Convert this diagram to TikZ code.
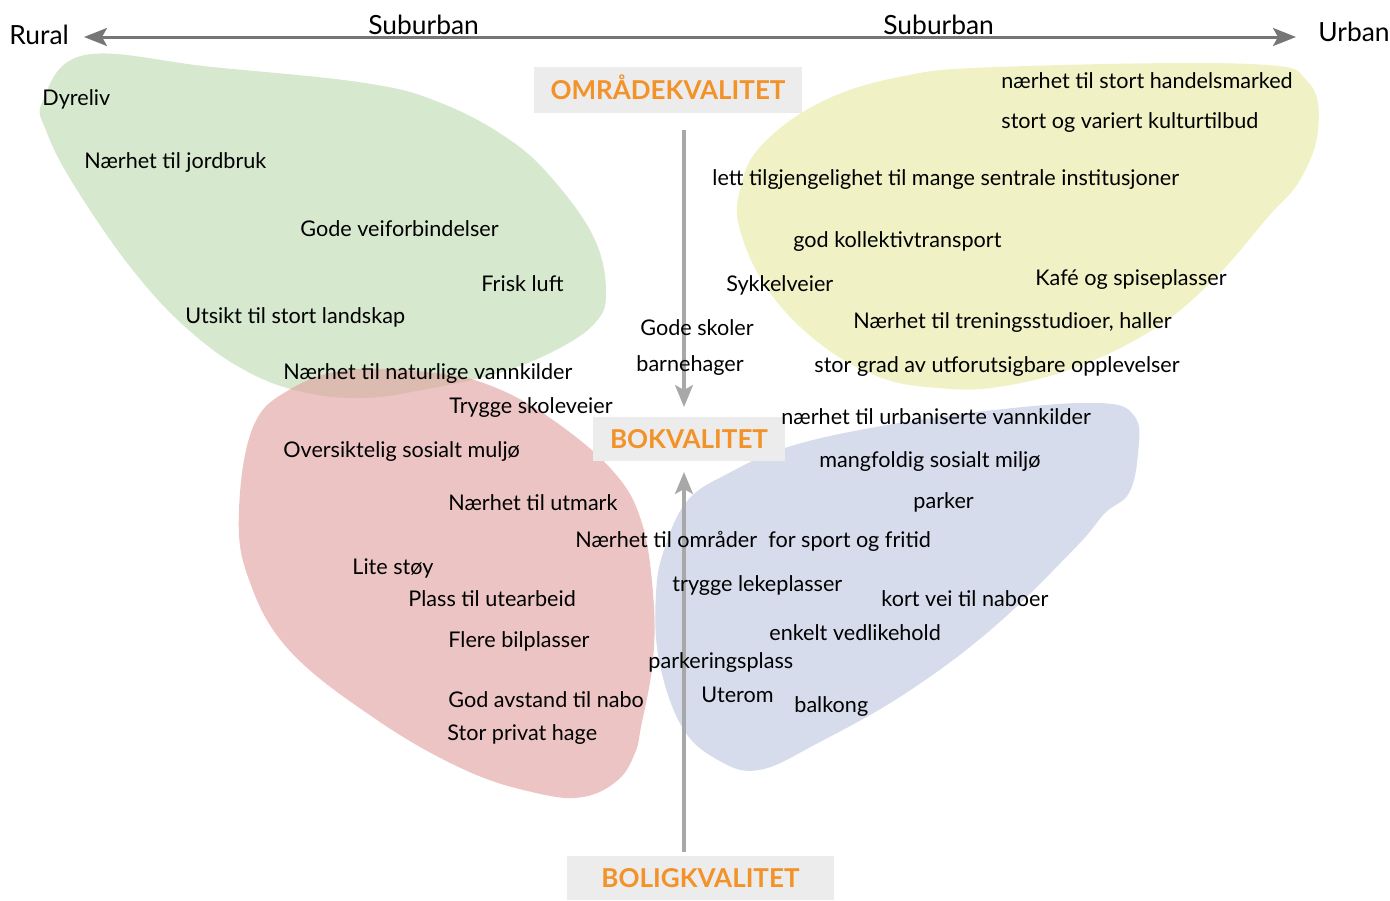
\documentclass[tikz,border=0pt]{standalone}
\usepackage{fontspec}
\setmainfont{Lato}
\usepackage{tikz}
\usetikzlibrary{arrows.meta}
\definecolor{omrOrange}{RGB}{242,146,40}
\definecolor{boksGraa}{RGB}{236,236,236}
\definecolor{akseGraa}{RGB}{118,118,118}
\definecolor{pilGraa}{RGB}{168,168,168}

\begin{document}
\begin{tikzpicture}[x=0.5pt, y=-0.5pt, font=\fontsize{10.8}{12}\selectfont,
    tekst/.style={anchor=base west, inner sep=0pt},
    akse/.style={anchor=base west, inner sep=0pt, font=\fontsize{13.2}{15}\selectfont},
    kvalitet/.style={fill=boksGraa, text=omrOrange, inner sep=0pt,
      font=\fontsize{13}{15}\selectfont\bfseries, text height=9.4pt, text depth=0pt},
    aksepil/.style={draw=akseGraa, line width=1.5pt,
      {Stealth[length=11.5pt, width=9pt, inset=2.5pt]}-{Stealth[length=11.5pt, width=9pt, inset=2.5pt]}},
    vpil/.style={draw=pilGraa, line width=1.6pt,
      -{Stealth[length=11pt, width=9pt, inset=2.5pt]}}]
  % ── Palette ──
  \definecolor{colGruen}{RGB}{214,232,206}
  \definecolor{colGul}{RGB}{240,242,198}
  \definecolor{colRod}{RGB}{225,157,157}
  \definecolor{colBla}{RGB}{214,220,236}

  \useasboundingbox (0,0) rectangle (1390,900);

  % ── Flater (px, y nedover) ──
  \fill[colGruen] plot[smooth cycle, tension=0.65] coordinates {
    (85,55) (212,67) (365,83) (441,103) (510,140) (556,183) (595,240)
    (606,293) (595,323) (556,350) (499,373) (422,390) (365,398) (307,393)
    (250,373) (192,333) (135,273) (77,190) (47,133) (43,100)};
  \fill[colGul] plot[smooth cycle, tension=0.65] coordinates {
    (998,67) (1250,64) (1308,82) (1318,130) (1300,180) (1268,217) (1216,277)
    (1157,327) (1077,367) (998,387) (938,388) (879,377) (819,343)
    (768,290) (740,230) (740,190) (760,147) (819,103) (899,77)};
  \fill[colRod, fill opacity=0.6] plot[smooth cycle, tension=0.65] coordinates {
    (348,370) (436,373) (494,387) (553,420) (612,470) (641,520) (653,593)
    (653,660) (641,727) (635,753) (618,780) (583,797) (536,793) (465,770)
    (377,720) (289,650) (248,577) (239,510) (253,427) (289,390)};
  \fill[colBla] plot[smooth cycle, tension=0.65] coordinates {
    (665,547) (688,500) (729,473) (788,447) (876,427) (994,410) (1100,403)
    (1135,417) (1138,453) (1129,493) (1105,513) (1076,547) (994,627)
    (906,693) (818,743) (759,770) (718,760) (682,727) (659,660) (656,593)};

  % ── Akse Rural -- Urban ──
  \node[akse] (rural) at (9,44) {Rural};
  \node[akse] (suburbanV) at (368,34) {Suburban};
  \node[akse] (suburbanH) at (883,34) {Suburban};
  \node[akse] (urban) at (1318,41) {Urban};
  \coordinate (ruralEnde) at (84,37);
  \coordinate (urbanEnde) at (1296,37);
  \draw[aksepil] (ruralEnde) -- (urbanEnde);

  % ── Kvalitetsnivåer ──
  \node[kvalitet, minimum width=134pt, minimum height=23pt] (omr) at (668,90) {OMRÅDEKVALITET};
  \node[kvalitet, minimum width=96pt, minimum height=22pt] (bok) at (689,439) {BOKVALITET};
  \node[kvalitet, minimum width=133.5pt, minimum height=22pt] (bolig) at (700.5,878) {BOLIGKVALITET};

  \coordinate (omrPil) at (684,130);
  \coordinate (bokTopp) at (684,407);
  \coordinate (boligPil) at (684,852);
  \coordinate (bokBunn) at (684,472);
  \draw[vpil] (omrPil) -- (bokTopp);
  \draw[vpil] (boligPil) -- (bokBunn);

  % ── Rural ──
  \node[tekst] (dyreliv) at (42,105) {Dyreliv};
  \node[tekst] (jordbruk) at (84,168) {Nærhet til jordbruk};
  \node[tekst] (veiforb) at (300,236) {Gode veiforbindelser};
  \node[tekst] (luft) at (481,291) {Frisk luft};
  \node[tekst] (landskap) at (185,323) {Utsikt til stort landskap};
  \node[tekst] (vannNat) at (283,379) {Nærhet til naturlige vannkilder};

  % ── Suburban bolig ──
  \node[tekst] (skolevei) at (449,413) {Trygge skoleveier};
  \node[tekst] (oversikt) at (283,457) {Oversiktelig sosialt muljø};
  \node[tekst] (utmark) at (448,510) {Nærhet til utmark};
  \node[tekst] (sport) at (575,547) {Nærhet til områder~ for sport og fritid};
  \node[tekst] (stoy) at (352,574) {Lite støy};
  \node[tekst] (utearb) at (408,606) {Plass til utearbeid};
  \node[tekst] (bilpl) at (448,647) {Flere bilplasser};
  \node[tekst] (avstand) at (448,707) {God avstand til nabo};
  \node[tekst] (hage) at (447,740) {Stor privat hage};

  % ── Midt ──
  \node[tekst] (skoler) at (640,335) {Gode skoler};
  \node[tekst] (barneh) at (636,371) {barnehager};
  \node[tekst] (sykkel) at (726,291) {Sykkelveier};

  % ── Urban ──
  \node[tekst] (handel) at (1001,88) {nærhet til stort handelsmarked};
  \node[tekst] (kultur) at (1001,128) {stort og variert kulturtilbud};
  \node[tekst] (instit) at (712,185) {lett tilgjengelighet til mange sentrale institusjoner};
  \node[tekst] (kollektiv) at (793,247) {god kollektivtransport};
  \node[tekst] (kafe) at (1035,285) {Kafé og spiseplasser};
  \node[tekst] (trening) at (853,328) {Nærhet til treningsstudioer, haller};
  \node[tekst] (opplev) at (814,372) {stor grad av utforutsigbare opplevelser};

  % ── Urban bolig ──
  \node[tekst] (vannUrb) at (781,424) {nærhet til urbaniserte vannkilder};
  \node[tekst] (mangfold) at (819,467) {mangfoldig sosialt miljø};
  \node[tekst] (parker) at (913,508) {parker};
  \node[tekst] (leke) at (672,591) {trygge lekeplasser};
  \node[tekst] (naboer) at (881,606) {kort vei til naboer};
  \node[tekst] (vedlike) at (769,640) {enkelt vedlikehold};
  \node[tekst] (parkering) at (648,668) {parkeringsplass};
  \node[tekst] (uterom) at (701,702) {Uterom};
  \node[tekst] (balkong) at (794,712) {balkong};

\end{tikzpicture}
\end{document}
